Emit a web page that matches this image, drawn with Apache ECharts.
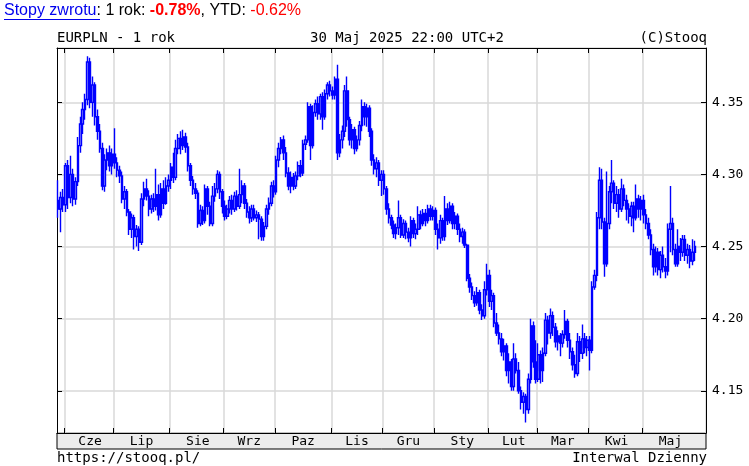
<!DOCTYPE html>
<html><head><meta charset="utf-8">
<script src="https://cdn.jsdelivr.net/npm/echarts@6/dist/echarts.min.js"></script>
<style>html,body{margin:0;padding:0;background:#fff}#c{width:749px;height:466px}</style>
</head><body><div id="c"></div>
<script>
// ---- data ----
const firstDay = '2024-05-29', lastDay = '2025-05-30';
const skippedDays = ['2024-12-25', '2025-01-01'];
const monthNames = ['Sty','Lut','Mar','Kwi','Maj','Cze','Lip','Sie','Wrz','Paz','Lis','Gru'];
const yTicks = [4.15, 4.20, 4.25, 4.30, 4.35];
const yMin = 4.1207, yMax = 4.3877;

const openPrices = [
4.282,4.276,4.284,
4.279,4.306,4.284,4.300,4.283,4.295,4.320,4.335,4.345,4.352,4.378,4.350,4.362,4.340,4.330,4.318,4.292,4.310,4.315,4.306,
4.314,4.308,4.303,4.299,4.283,4.288,4.274,4.262,4.270,4.257,4.262,4.253,4.283,4.290,4.285,4.276,4.283,4.278,4.286,4.272,4.290,4.280,4.292,
4.296,4.305,4.298,4.318,4.325,4.320,4.326,4.319,4.306,4.296,4.290,4.287,4.266,4.275,4.268,4.290,4.278,4.266,4.285,4.290,4.300,4.288,
4.278,4.271,4.276,4.282,4.276,4.285,4.278,4.286,4.292,4.280,4.274,4.270,4.276,4.270,4.272,4.269,4.257,4.264,4.276,4.280,4.292,
4.288,4.310,4.318,4.324,4.315,4.301,4.292,4.298,4.292,4.299,4.306,4.301,4.321,4.324,4.347,4.320,4.343,4.349,4.342,4.354,4.340,4.356,4.362,
4.358,4.355,4.366,4.315,4.324,4.330,4.358,4.338,4.324,4.331,4.318,4.324,4.334,4.347,4.340,4.346,4.330,4.310,4.304,4.308,4.296,
4.300,4.290,4.276,4.270,4.265,4.259,4.263,4.270,4.258,4.266,4.260,4.256,4.268,4.259,4.262,4.272,4.266,4.273,4.268,4.276,4.271,
4.275,4.262,4.256,4.268,4.257,4.276,4.268,4.278,4.266,4.271,4.262,4.257,4.260,4.251,4.228,4.222,4.216,4.211,4.218,4.206,4.202,4.220,
4.230,4.212,4.216,4.197,4.190,4.186,4.177,4.181,4.164,4.170,4.153,4.172,4.164,4.150,4.142,4.146,4.137,4.158,4.195,4.170,
4.158,4.175,4.164,4.176,4.199,4.190,4.202,4.194,4.184,4.188,4.183,4.189,4.198,4.185,4.177,4.168,4.162,4.184,4.176,4.186,4.180,
4.185,4.178,4.222,4.230,4.270,4.296,4.267,4.238,4.266,4.288,4.294,4.280,4.286,4.276,4.290,4.282,4.276,4.271,4.278,4.270,4.283,4.276,
4.282,4.272,4.266,4.258,4.248,4.236,4.246,4.234,4.244,4.236,4.233,4.262,4.266,4.248,4.238,4.250,4.246,4.255,4.244,4.248,4.240,4.246
];
const closePrices = [
4.276,4.284,4.279,
4.306,4.284,4.300,4.283,4.295,4.320,4.335,4.345,4.352,4.378,4.350,4.362,4.340,4.330,4.318,4.292,4.310,4.315,4.306,4.314,
4.308,4.303,4.299,4.283,4.288,4.274,4.262,4.270,4.257,4.262,4.253,4.283,4.290,4.285,4.276,4.283,4.278,4.286,4.272,4.290,4.280,4.292,4.296,
4.305,4.298,4.318,4.325,4.320,4.326,4.319,4.306,4.296,4.290,4.287,4.266,4.275,4.268,4.290,4.278,4.266,4.285,4.290,4.300,4.288,4.278,
4.271,4.276,4.282,4.276,4.285,4.278,4.286,4.292,4.280,4.274,4.270,4.276,4.270,4.272,4.269,4.257,4.264,4.276,4.280,4.292,4.288,
4.310,4.318,4.324,4.315,4.301,4.292,4.298,4.292,4.299,4.306,4.301,4.321,4.324,4.347,4.320,4.343,4.349,4.342,4.354,4.340,4.356,4.362,4.358,
4.355,4.366,4.315,4.324,4.330,4.358,4.338,4.324,4.331,4.318,4.324,4.334,4.347,4.340,4.346,4.330,4.310,4.304,4.308,4.296,4.300,
4.290,4.276,4.270,4.265,4.259,4.263,4.270,4.258,4.266,4.260,4.256,4.268,4.259,4.262,4.272,4.266,4.273,4.268,4.276,4.271,4.275,
4.262,4.256,4.268,4.257,4.276,4.268,4.278,4.266,4.271,4.262,4.257,4.260,4.251,4.228,4.222,4.216,4.211,4.218,4.206,4.202,4.220,4.230,
4.212,4.216,4.197,4.190,4.186,4.177,4.181,4.164,4.170,4.153,4.172,4.164,4.150,4.142,4.146,4.137,4.158,4.195,4.170,4.158,
4.175,4.164,4.176,4.199,4.190,4.202,4.194,4.184,4.188,4.183,4.189,4.198,4.185,4.177,4.168,4.162,4.184,4.176,4.186,4.180,4.185,
4.178,4.222,4.230,4.270,4.296,4.267,4.238,4.266,4.288,4.294,4.280,4.286,4.276,4.290,4.282,4.276,4.271,4.278,4.270,4.283,4.276,4.282,
4.272,4.266,4.258,4.248,4.236,4.246,4.234,4.244,4.236,4.233,4.262,4.266,4.248,4.238,4.250,4.246,4.255,4.244,4.248,4.240,4.246,4.250
];
const lowPrices = [
4.270,4.260,4.274,
4.274,4.276,4.280,4.278,4.279,4.292,4.315,4.328,4.338,4.348,4.346,4.340,4.334,4.324,4.315,4.289,4.288,4.303,4.302,4.300,
4.304,4.298,4.294,4.280,4.276,4.271,4.258,4.256,4.248,4.250,4.247,4.251,4.278,4.282,4.271,4.273,4.274,4.275,4.268,4.270,4.276,4.279,4.288,
4.290,4.294,4.296,4.314,4.314,4.317,4.315,4.302,4.292,4.286,4.283,4.263,4.264,4.265,4.266,4.272,4.264,4.264,4.281,4.287,4.283,4.273,
4.268,4.269,4.273,4.272,4.274,4.275,4.276,4.280,4.276,4.270,4.266,4.267,4.268,4.267,4.255,4.254,4.254,4.262,4.272,4.278,4.284,
4.286,4.305,4.314,4.310,4.298,4.289,4.287,4.289,4.290,4.296,4.298,4.299,4.317,4.322,4.310,4.318,4.340,4.338,4.338,4.331,4.338,4.352,4.354,
4.352,4.352,4.310,4.312,4.318,4.326,4.333,4.320,4.318,4.314,4.316,4.320,4.330,4.334,4.333,4.326,4.306,4.300,4.298,4.292,4.285,
4.286,4.272,4.266,4.262,4.256,4.255,4.258,4.256,4.256,4.255,4.253,4.250,4.256,4.255,4.258,4.262,4.264,4.264,4.266,4.268,4.268,
4.258,4.248,4.252,4.254,4.254,4.265,4.266,4.262,4.262,4.258,4.253,4.252,4.249,4.226,4.218,4.213,4.208,4.209,4.203,4.199,4.200,4.216,
4.208,4.206,4.194,4.188,4.182,4.174,4.171,4.160,4.155,4.150,4.150,4.162,4.148,4.137,4.134,4.128,4.134,4.155,4.166,4.155,
4.156,4.155,4.156,4.174,4.182,4.186,4.188,4.180,4.178,4.174,4.180,4.186,4.180,4.172,4.164,4.159,4.160,4.170,4.172,4.176,4.174,
4.164,4.176,4.220,4.226,4.262,4.262,4.229,4.236,4.262,4.280,4.276,4.274,4.270,4.274,4.278,4.268,4.266,4.264,4.260,4.268,4.270,4.268,
4.266,4.262,4.255,4.244,4.230,4.232,4.230,4.228,4.232,4.228,4.230,4.246,4.244,4.236,4.236,4.240,4.243,4.240,4.238,4.235,4.237,4.240
];
const highPrices = [
4.296,4.288,4.290,
4.308,4.310,4.313,4.304,4.298,4.326,4.340,4.350,4.356,4.382,4.381,4.368,4.364,4.345,4.335,4.322,4.314,4.318,4.320,4.318,
4.332,4.312,4.306,4.302,4.292,4.290,4.276,4.273,4.272,4.265,4.264,4.287,4.295,4.297,4.289,4.286,4.287,4.304,4.293,4.294,4.296,4.298,4.300,
4.308,4.315,4.324,4.328,4.330,4.331,4.329,4.322,4.308,4.299,4.294,4.289,4.279,4.278,4.293,4.292,4.281,4.292,4.294,4.303,4.302,4.290,
4.282,4.279,4.285,4.286,4.288,4.289,4.304,4.296,4.294,4.283,4.278,4.279,4.279,4.275,4.274,4.271,4.267,4.279,4.284,4.295,4.296,
4.313,4.322,4.326,4.327,4.319,4.305,4.302,4.301,4.302,4.309,4.310,4.324,4.327,4.350,4.349,4.348,4.352,4.354,4.356,4.357,4.359,4.364,4.365,
4.361,4.368,4.376,4.328,4.334,4.362,4.368,4.340,4.335,4.333,4.327,4.337,4.352,4.350,4.349,4.348,4.332,4.314,4.312,4.310,4.303,
4.303,4.292,4.280,4.272,4.268,4.266,4.282,4.272,4.269,4.268,4.263,4.271,4.270,4.266,4.278,4.275,4.276,4.276,4.279,4.279,4.278,
4.277,4.266,4.272,4.270,4.285,4.280,4.281,4.280,4.274,4.273,4.266,4.263,4.262,4.252,4.231,4.225,4.219,4.222,4.220,4.210,4.226,4.238,
4.234,4.220,4.218,4.204,4.196,4.190,4.186,4.183,4.176,4.172,4.183,4.176,4.170,4.153,4.149,4.148,4.162,4.200,4.198,4.185,
4.183,4.178,4.180,4.204,4.202,4.207,4.205,4.197,4.192,4.190,4.192,4.206,4.200,4.190,4.180,4.175,4.190,4.188,4.196,4.190,4.188,
4.188,4.226,4.234,4.274,4.305,4.304,4.270,4.302,4.292,4.310,4.296,4.292,4.290,4.297,4.293,4.286,4.280,4.281,4.281,4.293,4.286,4.285,
4.286,4.276,4.270,4.262,4.252,4.250,4.249,4.247,4.250,4.242,4.266,4.292,4.270,4.252,4.262,4.256,4.258,4.258,4.252,4.251,4.255,4.254
];

// ---- categories: trading days ----
const dates = [];
for (let d = new Date(firstDay + 'T00:00:00Z'); d <= new Date(lastDay + 'T00:00:00Z'); d.setUTCDate(d.getUTCDate() + 1)) {
  const wd = d.getUTCDay();
  if (wd === 0 || wd === 6) continue;
  const s = d.toISOString().slice(0, 10);
  if (skippedDays.includes(s)) continue;
  dates.push(s);
}
const padSlots = 4;
const categories = dates.concat(Array(padSlots).fill(''));
const candles = dates.map((d, i) => [openPrices[i], closePrices[i], lowPrices[i], highPrices[i]]);

// month boundaries and label positions
const monthStart = {};
const labelAt = {};
let gStart = 0;
for (let i = 1; i <= dates.length; i++) {
  if (i === dates.length || dates[i].slice(0, 7) !== dates[i - 1].slice(0, 7)) {
    if (i < dates.length) monthStart[i] = true;
    const cnt = i - gStart;
    if (cnt >= 10) labelAt[gStart + Math.floor(cnt / 2)] = monthNames[+dates[gStart].slice(5, 7) - 1];
    gStart = i;
  }
}

const mono = 'DejaVu Sans Mono';
const chart = echarts.init(document.getElementById('c'), null, {renderer: 'canvas'});
const tickFn = (idx) => !!monthStart[idx];
chart.setOption({
  animation: false,
  backgroundColor: '#fff',
  grid: {left: 57, top: 48, width: 649, height: 385, show: false},
  xAxis: [{
    type: 'category', data: categories, boundaryGap: true, position: 'bottom',
    axisLine: {show: true, lineStyle: {color: '#000', width: 1}},
    axisTick: {show: true, inside: true, length: 5, interval: tickFn, lineStyle: {color: '#000'}},
    splitLine: {show: true, interval: tickFn, lineStyle: {color: '#d8d8d8', width: 1.5}},
    axisLabel: {show: true, interval: (idx) => labelAt[idx] !== undefined, formatter: (v, idx) => labelAt[idx] || '',
      color: '#000', fontFamily: mono, fontSize: 13, margin: 2}
  }, {
    type: 'category', data: categories, boundaryGap: true, position: 'top',
    axisLine: {show: true, lineStyle: {color: '#000', width: 1}},
    axisTick: {show: true, inside: true, length: 5, interval: tickFn, lineStyle: {color: '#000'}},
    splitLine: {show: false}, axisLabel: {show: false}
  }],
  yAxis: [{
    type: 'value', position: 'right', min: yMin, max: yMax, scale: true,
    minInterval: 0.05, maxInterval: 0.05,
    axisLine: {show: true, lineStyle: {color: '#000', width: 1}},
    axisTick: {show: true, inside: true, length: 5, lineStyle: {color: '#000'}},
    splitLine: {show: true, lineStyle: {color: '#d8d8d8', width: 1.5}},
    axisLabel: {show: true, color: '#000', fontFamily: mono, fontSize: 13, margin: 6,
      showMinLabel: false, showMaxLabel: false,
      formatter: (v) => yTicks.some(t => Math.abs(t - v) < 1e-6) ? v.toFixed(2) : ''}
  }, {
    type: 'value', position: 'left', min: yMin, max: yMax, scale: true,
    minInterval: 0.05, maxInterval: 0.05,
    axisLine: {show: true, lineStyle: {color: '#000', width: 1}},
    axisTick: {show: true, inside: true, length: 5, lineStyle: {color: '#000'}},
    splitLine: {show: false}, axisLabel: {show: false}
  }],
  series: [{
    type: 'candlestick', xAxisIndex: 0, yAxisIndex: 0, data: candles,
    barWidth: '85%',
    itemStyle: {color: '#9a9aff', color0: '#0000ff', borderColor: '#0000ff', borderColor0: '#0000ff', borderWidth: 1.4}
  }],
  graphic: [
    {type: 'rect', z: -10, shape: {x: 57, y: 433, width: 649, height: 16}, style: {fill: '#ececec', stroke: '#000', lineWidth: 1}},
    {type: 'text', x: 4, y: 11, style: {
      text: '{a|Stopy zwrotu}{b|: 1 rok: }{r|-0.78%}{b|, YTD: }{s|-0.62%}',
      verticalAlign: 'middle',
      rich: {
        a: {font: '16px "Liberation Sans", Arial, sans-serif', fill: '#0000ee'},
        b: {font: '16px "Liberation Sans", Arial, sans-serif', fill: '#000'},
        r: {font: 'bold 16px "Liberation Sans", Arial, sans-serif', fill: '#ff0000'},
        s: {font: '16px "Liberation Sans", Arial, sans-serif', fill: '#ff0000'}
      }}},
    {type: 'line', shape: {x1: 4, y1: 19.5, x2: 100, y2: 19.5}, style: {stroke: '#0000ee', lineWidth: 1}},
    {type: 'text', x: 57, y: 38, style: {text: 'EURPLN - 1 rok', font: '14px "' + mono + '"', fill: '#000', verticalAlign: 'middle'}},
    {type: 'text', x: 310, y: 38, style: {text: '30 Maj 2025 22:00 UTC+2', font: '14px "' + mono + '"', fill: '#000', verticalAlign: 'middle'}},
    {type: 'text', x: 707, y: 38, style: {text: '(C)Stooq', font: '14px "' + mono + '"', fill: '#000', align: 'right', verticalAlign: 'middle'}},
    {type: 'text', x: 57, y: 458, style: {text: 'https://stooq.pl/', font: '14px "' + mono + '"', fill: '#000', verticalAlign: 'middle'}},
    {type: 'text', x: 707, y: 458, style: {text: 'Interwal Dzienny', font: '14px "' + mono + '"', fill: '#000', align: 'right', verticalAlign: 'middle'}}
  ]
});
</script>
</body></html>
